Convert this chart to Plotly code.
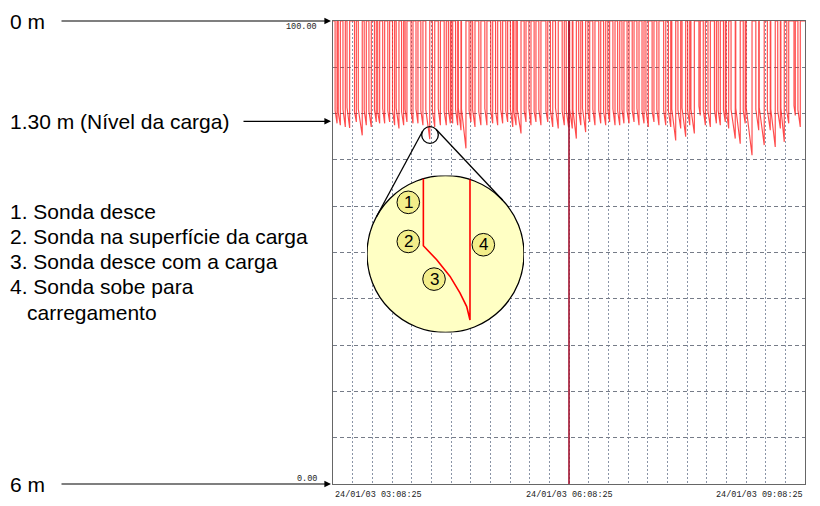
import numpy as np
import pandas as pd
import plotly.graph_objects as go

# ---- chart data -----------------------------------------------------------
START = "2003-01-24 03:08:25"
END = "2003-01-24 09:08:25"
CURSOR = "2003-01-24 06:08:25"
x_tick_labels = ["24/01/03 03:08:25", "24/01/03 06:08:25", "24/01/03 09:08:25"]
y_tick_labels = ["100.00", "0.00"]

# probe cycles: time of return to top (minutes after START), level where the
# probe meets the load, lowest level reached, and time spent riding the load
rise_min = [3.1, 5.6, 9.4, 12.7, 17.8, 22.3, 25.4, 29.2, 33.0, 35.6, 39.4, 43.2,
            47.0, 50.3, 53.9, 56.4, 61.0, 64.8, 68.6, 73.8, 77.6, 81.9, 86.4, 89.5,
            91.3, 95.1, 97.6, 101.4, 105.2, 108.3, 112.8, 117.4, 121.8, 125.6, 129.4, 133.2,
            137.1, 139.6, 143.4, 147.2, 151.0, 154.8, 158.6, 163.8, 167.6, 171.8, 176.4, 179.7,
            182.5, 185.6, 189.0, 192.7, 195.8, 199.8, 204.2, 208.0, 211.0, 215.1, 218.7, 221.9,
            225.8, 229.6, 233.4, 237.2, 240.5, 244.8, 248.6, 253.8, 257.6, 261.4, 265.2, 269.0,
            272.1, 275.6, 280.1, 284.0, 287.8, 292.4, 295.4, 299.2, 301.8, 306.8, 310.6, 314.4,
            319.6, 324.7, 328.9, 333.5, 337.3, 341.2, 344.2, 347.6, 352.6, 356.4]
surface_pct = [80.6, 80.2, 80.9, 81.3, 80.4, 81.0, 80.7, 80.5, 80.9, 80.3, 81.1, 80.6,
               80.8, 81.2, 80.4, 80.9, 80.5, 81.0, 80.7, 80.8, 80.6, 81.1, 80.4, 80.8,
               80.5, 80.9, 81.2, 81.0, 80.6, 80.8, 80.4, 81.1, 80.7, 80.5, 80.9, 80.6,
               81.0, 80.4, 80.8, 80.7, 81.1, 80.5, 80.9, 80.6, 80.8, 81.2, 80.5, 80.7,
               81.0, 80.8, 80.6, 81.1, 80.5, 80.9, 80.7, 80.4, 80.8, 81.0, 80.6, 80.9,
               80.5, 80.7, 81.1, 80.6, 80.8, 80.5, 80.9, 80.7, 80.6, 81.0, 80.8, 81.2,
               80.7, 81.0, 81.6, 80.8, 80.5, 80.9, 80.6, 80.8, 81.1, 80.9, 81.2, 80.7,
               81.4, 80.9, 81.3, 80.8, 81.0, 80.6, 81.2, 80.5, 81.7, 80.8]
bottom_pct = [77.9, 77.5, 77.1, 76.9, 78.2, 75.3, 77.5, 77.1, 78.2, 77.9, 77.9, 78.2,
              77.5, 76.8, 77.5, 78.2, 77.9, 77.9, 77.5, 74.5, 77.1, 77.5, 77.5, 77.9,
              77.9, 77.5, 76.4, 72.5, 78.2, 77.1, 77.5, 77.5, 77.9, 77.5, 77.9, 78.2,
              77.1, 77.5, 75.7, 78.2, 77.5, 78.2, 77.5, 78.2, 77.1, 76.8, 77.5, 77.0,
              76.8, 74.6, 77.5, 76.0, 78.2, 77.5, 77.9, 77.5, 78.2, 77.5, 77.5, 77.9,
              77.9, 78.2, 77.5, 77.9, 77.1, 78.2, 77.5, 77.5, 77.1, 74.2, 76.8, 75.0,
              77.5, 75.7, 79.6, 77.5, 77.1, 77.9, 77.5, 78.2, 76.8, 74.6, 73.5, 77.9,
              71.0, 76.4, 73.2, 76.4, 72.8, 76.8, 73.9, 77.9, 79.6, 77.1]
descent_min = [1.5, 1.6, 1.8, 2.0, 1.4, 3.0, 1.6, 1.8, 1.4, 1.5, 1.5, 1.4,
               1.6, 2.1, 1.6, 1.4, 1.5, 1.5, 1.6, 3.0, 1.8, 1.6, 1.6, 1.5,
               1.2, 1.6, 2.0, 3.4, 1.4, 1.8, 1.6, 1.6, 1.5, 1.6, 1.5, 1.4,
               1.8, 1.6, 2.8, 1.4, 1.6, 1.4, 1.6, 1.4, 1.8, 2.1, 1.6, 1.8,
               2.0, 2.6, 1.6, 2.4, 1.4, 1.6, 1.5, 1.6, 1.4, 1.6, 1.6, 1.5,
               1.5, 1.4, 1.6, 1.5, 1.8, 1.4, 1.6, 1.6, 1.8, 3.0, 2.1, 2.8,
               1.6, 2.6, 1.0, 1.6, 1.8, 1.5, 1.6, 1.4, 2.0, 3.2, 3.4, 1.5,
               4.5, 2.2, 3.8, 2.2, 3.4, 2.0, 2.6, 1.5, 1.0, 1.8]

# tank depth scale (m) and load level
depth_top_m, depth_bottom_m = 0.0, 6.0
load_level_m = 1.30

# one magnified cycle: probe descends (1), meets the load (2),
# sinks with the load (3), rises for loading (4)
detail_t = [35.9, 35.9, 44.4, 52.9, 59.2, 63.5, 65.6, 65.6]
detail_level = [98.0, 55.3, 46.3, 35.7, 25.2, 16.5, 8.0, 97.5]
badge_text = ["1", "2", "3", "4"]
badge_u = [26.3, 26.3, 42.7, 74.1]
badge_v = [82.9, 58.0, 34.0, 55.9]

# ---- geometry ---------------------------------------------------------------
W, H = 820, 506
M_L, M_R, M_T, M_B = 333, 15, 21, 22
PW, PH = W - M_L - M_R, H - M_T - M_B


def px(x):
    return (x - M_L) / PW


def py(y):
    return (H - M_B - y) / PH


def depth_to_pct(m):
    return 100 * (1 - (m - depth_top_m) / (depth_bottom_m - depth_top_m))


# ---- main trace -------------------------------------------------------------
t0 = pd.Timestamp(START)
xs, ys = [0.0], [100.0]
for r, s, b, d in zip(rise_min, surface_pct, bottom_pct, descent_min):
    xs += [r - d, r - d, r, r]
    ys += [100.0, s, b, 100.0]
xs.append(360.0)
ys.append(100.0)
times = [t0 + pd.Timedelta(minutes=m) for m in xs]

fig = go.Figure()
fig.add_trace(go.Scatter(x=times, y=ys, mode="lines",
                         line=dict(color="rgba(255,30,30,0.8)", width=1.15),
                         hoverinfo="skip", showlegend=False))

# magnified cycle drawn in its own small frame
fig.add_trace(go.Scatter(x=detail_t, y=detail_level, mode="lines",
                         line=dict(color="#ff0000", width=1.6),
                         xaxis="x2", yaxis="y2", hoverinfo="skip", showlegend=False))

grid_v = "#8a94a6"
grid_h = "#767c88"
fig.update_layout(
    width=W, height=H,
    margin=dict(l=M_L, r=M_R, t=M_T, b=M_B),
    paper_bgcolor="white",
    plot_bgcolor="rgba(0,0,0,0)",
    showlegend=False,
    xaxis=dict(type="date", range=[START, END], tick0=START, dtick=3 * 3600 * 1000,
               showgrid=True, gridcolor=grid_v, griddash="2px,2px", gridwidth=1,
               showticklabels=False, ticks="", zeroline=False,
               showline=True, linecolor="#666", linewidth=1, mirror=True,
               minor=dict(tick0=START, dtick=15 * 60 * 1000, showgrid=True,
                          gridcolor=grid_v, griddash="2px,2px", gridwidth=1, ticks="")),
    yaxis=dict(range=[0, 100], dtick=10, showgrid=True, gridcolor=grid_h,
               griddash="4px,3px", gridwidth=1, showticklabels=False, ticks="",
               zeroline=False, showline=True, linecolor="#666", linewidth=1, mirror=True),
    xaxis2=dict(domain=[px(367), px(524)], range=[0, 100], anchor="y2", visible=False,
                fixedrange=True),
    yaxis2=dict(domain=[py(332.5), py(175.5)], range=[0, 100], anchor="x2", visible=False,
                fixedrange=True),
)

shapes = []
# cursor line
shapes.append(dict(type="line", xref="x", yref="paper", x0=CURSOR, x1=CURSOR, y0=0, y1=1,
                   line=dict(color="#a3122f", width=1.6), layer="above"))

# magnifier: small circle on the spike, tangents to the large circle
c1 = np.array([430.0, 135.0]); r1 = 8.3
c2 = np.array([445.5, 254.0]); r2 = 78.5
d = c2 - c1
dist = np.hypot(*d)
base = np.arctan2(d[1], d[0])
phi = np.arccos((r2 - r1) / dist)
for sgn in (1, -1):
    a = base + sgn * phi
    n = np.array([np.cos(a), np.sin(a)])
    p1 = c1 - r1 * n
    p2 = c2 - r2 * n
    shapes.append(dict(type="line", xref="paper", yref="paper",
                       x0=px(p1[0]), y0=py(p1[1]), x1=px(p2[0]), y1=py(p2[1]),
                       line=dict(color="black", width=1.3), layer="above"))
shapes.append(dict(type="circle", xref="paper", yref="paper",
                   x0=px(c1[0] - r1), x1=px(c1[0] + r1), y0=py(c1[1] + r1), y1=py(c1[1] - r1),
                   line=dict(color="black", width=1.3), layer="above"))

# large circle of the magnified view
shapes.append(dict(type="circle", xref="x2", yref="y2", x0=0, x1=100, y0=0, y1=100,
                   fillcolor="#ffffc4", line=dict(color="black", width=1.3), layer="between"))
br = 7.2
for u, v in zip(badge_u, badge_v):
    shapes.append(dict(type="circle", xref="x2", yref="y2", x0=u - br, x1=u + br,
                       y0=v - br, y1=v + br, fillcolor="#f3ee8a",
                       line=dict(color="black", width=1), layer="between"))
fig.update_layout(shapes=shapes)

ann = []
label_font = dict(family="Liberation Sans, Arial, sans-serif", size=21, color="black")
mono = dict(family="Liberation Mono, Courier New, monospace", size=8.5, color="#222")

# depth labels with arrows into the chart
for txt, m, tail in [("0 m", depth_top_m, 60), ("1.30 m (Nível da carga)", load_level_m, 242),
                     ("6 m", depth_bottom_m, 60)]:
    yv = depth_to_pct(m)
    ann.append(dict(text=txt, xref="paper", yref="y", x=px(8), y=yv, xanchor="left",
                    yanchor="middle", showarrow=False, font=label_font))
    ann.append(dict(text="", xref="paper", yref="y", x=px(331), y=yv, ax=-(331 - tail), ay=0,
                    showarrow=True, arrowhead=2, arrowsize=1.1, arrowwidth=1.2,
                    arrowcolor="black", standoff=0))

steps = ["1. Sonda desce", "2. Sonda na superfície da carga", "3. Sonda desce com a carga",
         "4. Sonda sobe para"]
for i, txt in enumerate(steps):
    ann.append(dict(text=txt, xref="paper", yref="paper", x=px(8), y=py(211 + 25.3 * i),
                    xanchor="left", yanchor="middle", showarrow=False, font=label_font))
ann.append(dict(text="carregamento", xref="paper", yref="paper", x=px(25), y=py(312),
                xanchor="left", yanchor="middle", showarrow=False, font=label_font))

# axis value labels
ann.append(dict(text=y_tick_labels[0], xref="paper", yref="paper", x=px(319), y=py(26.5),
                xanchor="right", yanchor="middle", showarrow=False, font=mono))
ann.append(dict(text=y_tick_labels[1], xref="paper", yref="paper", x=px(319), y=py(479),
                xanchor="right", yanchor="middle", showarrow=False, font=mono))
for txt, xv, anchor in zip(x_tick_labels, [START, CURSOR, END], ["left", "center", "right"]):
    ann.append(dict(text=txt, xref="x", yref="paper", x=xv, y=py(495), xanchor=anchor,
                    yanchor="middle", showarrow=False, font=mono))

# step numbers inside the magnified view
for t, u, v in zip(badge_text, badge_u, badge_v):
    ann.append(dict(text=t, xref="x2", yref="y2", x=u, y=v, xanchor="center",
                    yanchor="middle", showarrow=False,
                    font=dict(family="Liberation Sans, Arial, sans-serif", size=17,
                              color="black")))
fig.update_layout(annotations=ann)

fig.write_html("out.html")
